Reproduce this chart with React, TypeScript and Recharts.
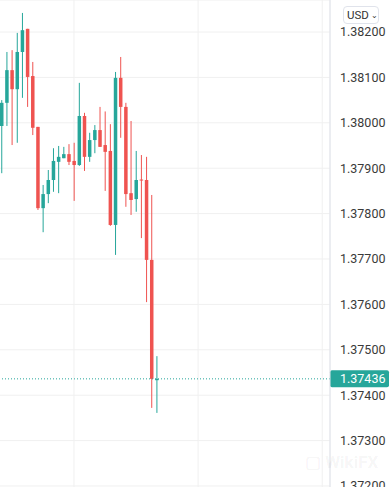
import { ComposedChart, Bar, XAxis, YAxis, CartesianGrid, ReferenceLine } from 'recharts';

const opens = [1.37993, 1.38044, 1.38116, 1.38074, 1.38156, 1.38207, 1.38103, 1.37991, 1.37812, 1.37843, 1.37874, 1.37914, 1.37922, 1.37931, 1.37916, 1.37907, 1.38015, 1.37925, 1.37962, 1.37984, 1.37951, 1.37938, 1.37775, 1.38099, 1.38035, 1.37845, 1.37832, 1.37875, 1.37874, 1.37698, 1.37433];
const highs = [1.3805, 1.38156, 1.3816, 1.38198, 1.38242, 1.38207, 1.38134, 1.37991, 1.37863, 1.37896, 1.37944, 1.37949, 1.37947, 1.37953, 1.37956, 1.38088, 1.38022, 1.37978, 1.37995, 1.38035, 1.38025, 1.37997, 1.38112, 1.38145, 1.38044, 1.38004, 1.37938, 1.37929, 1.37925, 1.37841, 1.37486];
const lows = [1.37889, 1.37993, 1.37951, 1.37956, 1.38055, 1.38035, 1.37973, 1.37808, 1.37759, 1.37823, 1.37848, 1.37845, 1.37922, 1.37907, 1.37828, 1.37905, 1.37894, 1.37914, 1.37933, 1.37947, 1.3785, 1.37773, 1.37709, 1.37967, 1.37815, 1.37797, 1.37804, 1.37746, 1.37605, 1.37372, 1.37361];
const closes = [1.38044, 1.38116, 1.38074, 1.38156, 1.38204, 1.38101, 1.37989, 1.37812, 1.37843, 1.37874, 1.37916, 1.37925, 1.37931, 1.37914, 1.37907, 1.38015, 1.37925, 1.37962, 1.37984, 1.37947, 1.37936, 1.37775, 1.38099, 1.38035, 1.37843, 1.3783, 1.37874, 1.37873, 1.37698, 1.37436, 1.37436];

const priceTicks = [1.372, 1.373, 1.374, 1.375, 1.376, 1.377, 1.378, 1.379, 1.38, 1.381, 1.382];
const timeTicks = [14, 38, 62];
const lastPrice = 1.37436;
const SLOTS = 64;

const UP = '#26a69a';
const DOWN = '#ef5350';

const data = Array.from({ length: SLOTS }, (_, i) =>
  i < opens.length
    ? { t: i, open: opens[i], high: highs[i], low: lows[i], close: closes[i] }
    : { t: i }
);

function Candle(props: any) {
  const { x, y, width, height, payload } = props;
  if (payload == null || payload.high == null) return null;
  const { open, high, low, close } = payload;
  const top = Math.min(y, y + height);
  const h = Math.abs(height);
  const ratio = high - low > 0 ? h / (high - low) : 0;
  const bodyTop = top + (high - Math.max(open, close)) * ratio;
  const bodyBottom = top + (high - Math.min(open, close)) * ratio;
  const color = close >= open ? UP : DOWN;
  const cx = x + width / 2;
  return (
    <g>
      <line x1={cx} x2={cx} y1={top} y2={top + h} stroke={color} strokeWidth={1} />
      <rect x={x} y={bodyTop} width={width} height={Math.max(1, bodyBottom - bodyTop)} fill={color} />
    </g>
  );
}

function PriceTag(props: any) {
  const vb = props.viewBox || {};
  const x0 = vb.x + vb.width;
  return (
    <g>
      <rect x={x0} y={vb.y - 8.5} width={59} height={17} rx={2} fill={UP} />
      <text x={x0 + 10} y={vb.y + 4.5} fill="#fff" fontSize={12.5} fontFamily="Roboto, 'Open Sans', sans-serif">
        {lastPrice.toFixed(5)}
      </text>
    </g>
  );
}

export default function App() {
  return (
    <div style={{ position: 'absolute', left: 0, top: 0, width: 392, height: 487, overflow: 'hidden', background: '#fff' }}>
      <div style={{ position: 'absolute', left: -1, top: 0 }}>
        <ComposedChart width={393} height={510} data={data} margin={{ top: 0, right: 0, bottom: 0, left: 0 }}>
          <CartesianGrid stroke="#f0f0f0" />
          <XAxis dataKey="t" type="category" ticks={timeTicks} interval={0} hide />
          <YAxis
            orientation="right"
            width={62}
            domain={[1.371471, 1.382705]}
            ticks={priceTicks}
            allowDataOverflow
            tickLine={false}
            axisLine={{ stroke: '#e0e3eb' }}
            tick={{ fill: '#3a3a3a', fontSize: 12.5, fontFamily: "Roboto, 'Open Sans', sans-serif", dx: 2 }}
            tickFormatter={(v: number) => v.toFixed(5)}
          />
          <ReferenceLine y={lastPrice} stroke={UP} strokeDasharray="1 2" label={<PriceTag />} />
          <Bar
            dataKey={(d: any) => (d.high != null ? [d.low, d.high] : null)}
            barSize={3.5}
            shape={<Candle />}
            isAnimationActive={false}
          />
        </ComposedChart>
      </div>
      <div
        style={{
          position: 'absolute',
          left: 343,
          top: 6,
          width: 36,
          height: 18,
          border: '1px solid #e0e3eb',
          borderRadius: 4,
          boxSizing: 'border-box',
          fontFamily: "Roboto, 'Open Sans', sans-serif",
          fontSize: 11.5,
          color: '#333',
          lineHeight: '16px',
          paddingLeft: 3,
        }}
      >
        USD<span style={{ fontSize: 8, marginLeft: 2, verticalAlign: 'middle' }}>⌄</span>
      </div>
      <div
        style={{
          position: 'absolute',
          left: 305,
          top: 452,
          fontFamily: "Roboto, 'Open Sans', sans-serif",
          fontSize: 17,
          fontWeight: 700,
          color: 'rgba(0,0,0,0.05)',
        }}
      >
        ▢ WikiFX
      </div>
    </div>
  );
}
